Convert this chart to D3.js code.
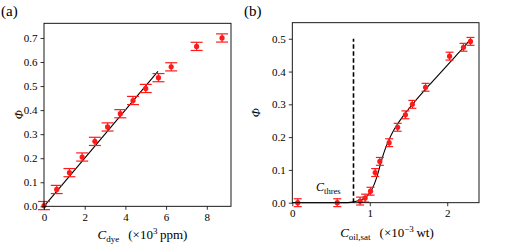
<!DOCTYPE html>
<html>
<head>
<meta charset="utf-8">
<script src="https://cdnjs.cloudflare.com/ajax/libs/d3/7.8.5/d3.min.js"></script>
<style>
  body { margin: 0; background: #fff; }
  svg text { font-family: "Liberation Serif", serif; fill: #000; }
</style>
</head>
<body>
<svg id="fig" width="521" height="245"></svg>
<script>
// panel (a): quantum yield vs dye concentration
var dyeConc = [0, 0.625, 1.25, 1.875, 2.5, 3.125, 3.75, 4.375, 5.0, 5.625, 6.25, 7.5, 8.75];
var dyePhi  = [0.003, 0.07, 0.14, 0.205, 0.27, 0.33, 0.385, 0.44, 0.49, 0.535, 0.58, 0.665, 0.70];
var dyeErr  = 0.017;
var dyeFitX = [0, 5.6];
var dyeFitY = [0, 0.561];

// panel (b): quantum yield vs oil saturation
var oilConc = [0.07, 0.58, 0.875, 0.94, 1.01, 1.07, 1.13, 1.25, 1.36, 1.46, 1.55, 1.72, 2.03, 2.21, 2.30];
var oilPhi  = [0.0, 0.0, 0.005, 0.014, 0.035, 0.092, 0.126, 0.183, 0.23, 0.268, 0.30, 0.352, 0.447, 0.474, 0.492];
var oilErr  = 0.012;
var oilFitX = [0, 0.6, 0.75, 0.8, 0.85, 0.9, 0.95, 1.0, 1.05, 1.1, 1.15, 1.2, 1.25, 1.3, 1.35, 1.4, 1.45, 1.5, 1.55, 1.6, 1.7, 1.8, 1.9, 2.0, 2.1, 2.2, 2.3];
var oilFitY = [0, 0, 0.001, 0.003, 0.006, 0.010, 0.017, 0.030, 0.052, 0.085, 0.128, 0.164, 0.193, 0.217, 0.237, 0.254, 0.270, 0.285, 0.299, 0.314, 0.341, 0.367, 0.393, 0.419, 0.445, 0.471, 0.498];
var cThres = 0.79;

var dyeXTicks = [0, 2, 4, 6, 8];
var dyeYTicks = [0, 0.1, 0.2, 0.3, 0.4, 0.5, 0.6, 0.7];
var oilXTicks = [0, 1, 2];
var oilYTicks = [0, 0.1, 0.2, 0.3, 0.4, 0.5];

var svg = d3.select("#fig");
var red = "#ff1a1a";

function panel(opt) {
  var x = d3.scaleLinear().domain(opt.xdom).range([opt.left, opt.right]);
  var y = d3.scaleLinear().domain(opt.ydom).range([opt.bottom, opt.top]);
  var g = svg.append("g");

  // fit curve
  var line = d3.line()
      .x(function (d) { return x(d[0]); })
      .y(function (d) { return y(d[1]); })
      .curve(d3.curveCatmullRom.alpha(0.5));
  g.append("path")
      .datum(d3.zip(opt.fitX, opt.fitY))
      .attr("d", line)
      .attr("fill", "none")
      .attr("stroke", "#000")
      .attr("stroke-width", 1.1);

  // error bars + points
  var pts = d3.zip(opt.px, opt.py);
  var eb = g.selectAll(".eb").data(pts).enter().append("g").attr("class", "eb");
  eb.append("line")
      .attr("x1", function (d) { return x(d[0]); })
      .attr("x2", function (d) { return x(d[0]); })
      .attr("y1", function (d) { return y(d[1] - opt.err); })
      .attr("y2", function (d) { return y(d[1] + opt.err); })
      .attr("stroke", red).attr("stroke-width", 1.2);
  [-1, 1].forEach(function (s) {
    eb.append("line")
        .attr("x1", function (d) { return x(d[0]) - opt.cap; })
        .attr("x2", function (d) { return x(d[0]) + opt.cap; })
        .attr("y1", function (d) { return y(d[1] + s * opt.err); })
        .attr("y2", function (d) { return y(d[1] + s * opt.err); })
        .attr("stroke", red).attr("stroke-width", 1.2);
  });
  eb.append("circle")
      .attr("cx", function (d) { return x(d[0]); })
      .attr("cy", function (d) { return y(d[1]); })
      .attr("r", 2.6)
      .attr("fill", red);

  // axes
  g.append("g")
      .attr("transform", "translate(0," + opt.bottom + ")")
      .call(d3.axisBottom(x).tickValues(opt.xticks).tickFormat(d3.format("d")).tickSize(3.5).tickSizeOuter(0))
      .call(styleAxis);
  g.append("g")
      .attr("transform", "translate(" + opt.left + ",0)")
      .call(d3.axisLeft(y).tickValues(opt.yticks).tickFormat(d3.format(".1f")).tickSize(3.5).tickSizeOuter(0))
      .call(styleAxis);
  g.append("rect")
      .attr("x", opt.left).attr("y", opt.top)
      .attr("width", opt.right - opt.left).attr("height", opt.bottom - opt.top)
      .attr("fill", "none").attr("stroke", "#000").attr("stroke-width", 0.9);

  // y label
  g.append("text")
      .attr("transform", "translate(" + opt.ylabX + "," + ((opt.top + opt.bottom) / 2) + ") rotate(-90)")
      .attr("text-anchor", "middle")
      .attr("dy", "0.35em")
      .style("font-style", "italic")
      .style("font-size", "12px")
      .text("\u03A6");

  return { x: x, y: y, g: g };
}

function styleAxis(sel) {
  sel.attr("font-family", null).attr("font-size", null);
  sel.select(".domain").remove();
  sel.selectAll(".tick line").attr("stroke", "#000").attr("stroke-width", 0.8);
  sel.selectAll(".tick text").style("font-size", "11px");
}

var a = panel({
  left: 44, right: 231, top: 23.3, bottom: 206.3,
  xdom: [0, 9.19], ydom: [0, 0.761],
  px: dyeConc, py: dyePhi, err: dyeErr, cap: 6,
  fitX: dyeFitX, fitY: dyeFitY,
  xticks: dyeXTicks, yticks: dyeYTicks, ylabX: 19
});

var b = panel({
  left: 292.3, right: 479, top: 22.7, bottom: 202.7,
  xdom: [0, 2.41], ydom: [0, 0.549],
  px: oilConc, py: oilPhi, err: oilErr, cap: 4,
  fitX: oilFitX, fitY: oilFitY,
  xticks: oilXTicks, yticks: oilYTicks, ylabX: 256
});

// threshold line
b.g.append("line")
    .attr("x1", b.x(cThres)).attr("x2", b.x(cThres))
    .attr("y1", b.y(0)).attr("y2", b.y(0.5))
    .attr("stroke", "#000").attr("stroke-width", 1.6)
    .attr("stroke-dasharray", "4.5,2.5");

var th = b.g.append("text").attr("x", 316).attr("y", 191).style("font-size", "12px");
th.append("tspan").style("font-style", "italic").text("C");
th.append("tspan").attr("dy", 3).style("font-size", "8.5px").text("thres");

// panel letters
svg.append("text").attr("x", 1).attr("y", 16).style("font-size", "15px").text("(a)");
svg.append("text").attr("x", 244).attr("y", 16).style("font-size", "15px").text("(b)");

// x labels
var xa = svg.append("text").attr("x", 142.5).attr("y", 239).attr("text-anchor", "middle").style("font-size", "13px");
xa.append("tspan").style("font-style", "italic").text("C");
xa.append("tspan").attr("dy", 3).style("font-size", "9px").text("dye");
xa.append("tspan").attr("dy", -3).attr("dx", 9).text("(\u00D710");
xa.append("tspan").attr("dy", -5).style("font-size", "9px").text("3");
xa.append("tspan").attr("dy", 5).text("\u2009ppm)");

var xb = svg.append("text").attr("x", 387).attr("y", 237).attr("text-anchor", "middle").style("font-size", "13px");
xb.append("tspan").style("font-style", "italic").text("C");
xb.append("tspan").attr("dy", 3).style("font-size", "9px").text("oil,sat");
xb.append("tspan").attr("dy", -3).attr("dx", 9).text("(\u00D710");
xb.append("tspan").attr("dy", -5).style("font-size", "9px").text("\u22123");
xb.append("tspan").attr("dy", 5).text("\u2009wt)");
</script>
</body>
</html>
